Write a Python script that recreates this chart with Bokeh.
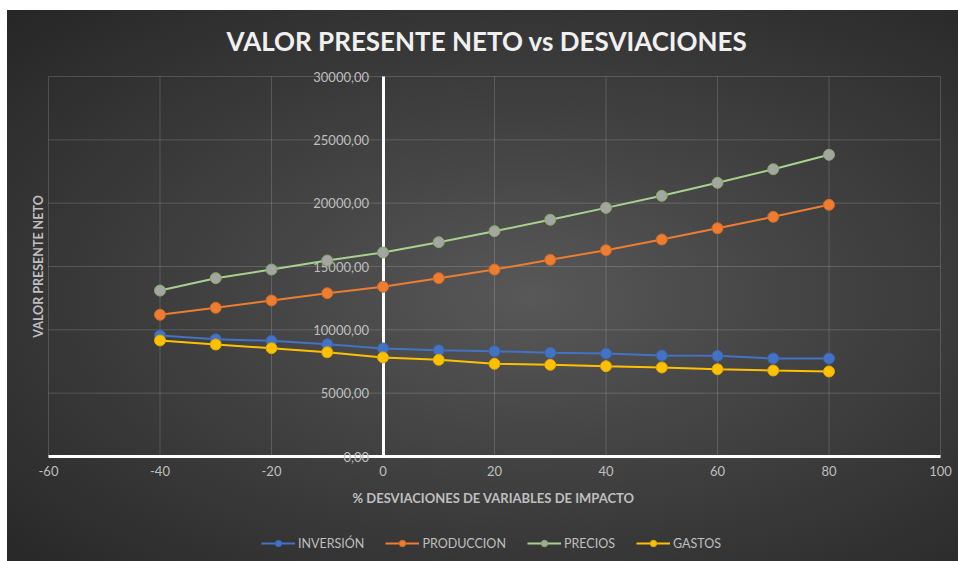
from math import pi
from bokeh.plotting import figure
from bokeh.models import (Range1d, FixedTicker, Legend, LegendItem, Label)
from bokeh.embed import file_html
from bokeh.resources import INLINE

# ---- data ----
desviaciones = [-40, -30, -20, -10, 0, 10, 20, 30, 40, 50, 60, 70, 80]
inversion = [9550, 9260, 9130, 8870, 8530, 8390, 8310, 8190, 8130, 7970, 7950, 7740, 7740]
produccion = [11190, 11740, 12320, 12890, 13400, 14080, 14760, 15530, 16290, 17130, 18020, 18920, 19870]
precios = [13100, 14080, 14760, 15470, 16110, 16920, 17790, 18690, 19630, 20580, 21610, 22680, 23820]
gastos = [9160, 8840, 8550, 8230, 7820, 7630, 7320, 7240, 7130, 7030, 6890, 6790, 6710]

x_ticks = [-60, -40, -20, 0, 20, 40, 60, 80, 100]
x_tick_labels = ["-60", "-40", "-20", "0", "20", "40", "60", "80", "100"]
y_ticks = [0, 5000, 10000, 15000, 20000, 25000, 30000]
y_tick_labels = ["0,00", "5000,00", "10000,00", "15000,00", "20000,00", "25000,00", "30000,00"]

series_names = ["INVERSIÓN", "PRODUCCION", "PRECIOS", "GASTOS"]
series_values = [inversion, produccion, precios, gastos]
line_colors = ["#4472C4", "#ED7D31", "#A9D18E", "#FFC000"]
marker_fills = ["#4472C4", "#ED7D31", "#A5A5A5", "#FFC000"]
marker_lines = ["#3b64ad", "#d06a26", "#7fae5e", "#e0a800"]

TITLE = "VALOR PRESENTE NETO vs DESVIACIONES"
X_TITLE = "% DESVIACIONES DE VARIABLES DE IMPACTO"
Y_TITLE = "VALOR PRESENTE NETO"

# ---- layout (pixels) ----
W, H = 958, 561
PX_LEFT, PX_RIGHT = 48, 940      # pixel columns of first / last x tick
PY_TOP, PY_BOTTOM = 76, 456      # pixel rows of last / first y tick

FONT = "Lato"
LABEL_COLOR = "#bfbfbf"

sx = (PX_RIGHT - PX_LEFT) / (x_ticks[-1] - x_ticks[0])
sy = (PY_BOTTOM - PY_TOP) / (y_ticks[-1] - y_ticks[0])
x_start = x_ticks[0] - PX_LEFT / sx
x_end = x_ticks[-1] + (W - PX_RIGHT) / sx
y_end = y_ticks[-1] + PY_TOP / sy
y_start = y_ticks[0] - (H - PY_BOTTOM) / sy


def X(px):
    return x_start + px / sx


def Y(py):
    return y_end - py / sy


p = figure(width=W, height=H, output_backend="svg", toolbar_location=None,
           x_range=Range1d(x_start, x_end), y_range=Range1d(y_start, y_end),
           min_border=0)
p.title.visible = False
p.styles = {"background": "radial-gradient(ellipse farthest-corner at 55% 52%, #585858 0%, #454545 35%, #262626 100%) 7px 10px / 951px 551px no-repeat, #ffffff"}
p.background_fill_alpha = 0
p.border_fill_alpha = 0
p.outline_line_color = None
p.grid.visible = False

# grid lines (limited to the value area)
p.segment(x0=x_ticks, y0=[y_ticks[0]] * len(x_ticks), x1=x_ticks, y1=[y_ticks[-1]] * len(x_ticks),
          line_color="#ffffff", line_alpha=0.16, line_width=1, level="image")
p.segment(x0=[x_ticks[0]] * len(y_ticks), y0=y_ticks, x1=[x_ticks[-1]] * len(y_ticks), y1=y_ticks,
          line_color="#ffffff", line_alpha=0.16, line_width=1, level="image")

# x axis crossing at y = 0
xa = p.xaxis[0]
xa.fixed_location = 0
xa.bounds = (x_ticks[0], x_ticks[-1])
xa.ticker = FixedTicker(ticks=x_ticks)
xa.major_label_overrides = {t: l for t, l in zip(x_ticks, x_tick_labels)}
xa.axis_line_color = "white"
xa.axis_line_width = 3
xa.major_tick_line_color = None
xa.minor_tick_line_color = None
xa.major_label_text_font = FONT
xa.major_label_text_font_size = "13px"
xa.major_label_text_color = LABEL_COLOR
xa.major_label_standoff = 3
xa.level = "underlay"

# y axis crossing at x = 0
ya = p.yaxis[0]
ya.fixed_location = 0
ya.bounds = (y_ticks[0], y_ticks[-1])
ya.ticker = FixedTicker(ticks=y_ticks)
ya.major_label_overrides = {t: l for t, l in zip(y_ticks, y_tick_labels)}
ya.axis_line_color = "white"
ya.axis_line_width = 3
ya.major_tick_line_color = None
ya.minor_tick_line_color = None
ya.major_label_text_font = FONT
ya.major_label_text_font_size = "13px"
ya.major_label_text_color = LABEL_COLOR
ya.major_label_standoff = 8
ya.level = "underlay"

# titles
p.add_layout(Label(x=X(486.5), y=Y(40), text=TITLE, text_align="center", text_baseline="middle",
                   text_font=FONT, text_font_style="bold", text_font_size="26px", text_color="#f0f0f0"))
p.add_layout(Label(x=X(493), y=Y(497), text=X_TITLE, text_align="center", text_baseline="middle",
                   text_font=FONT, text_font_style="bold", text_font_size="13px", text_color=LABEL_COLOR))
p.add_layout(Label(x=X(38), y=Y(266), text=Y_TITLE, text_align="center", text_baseline="middle", angle=pi / 2,
                   text_font=FONT, text_font_style="bold", text_font_size="12.5px", text_color=LABEL_COLOR))

items = []
for name, vals, lc, mf, ml in zip(series_names, series_values, line_colors, marker_fills, marker_lines):
    r1 = p.line(desviaciones, vals, line_color=lc, line_width=2)
    r2 = p.scatter(desviaciones, vals, size=11, fill_color=mf, line_color=ml, line_width=1)
    items.append(LegendItem(label=name, renderers=[r1, r2]))

legend = Legend(items=items, orientation="horizontal", location=(261, 10))
legend.background_fill_alpha = 0
legend.border_line_color = None
legend.label_text_font = FONT
legend.label_text_font_size = "12.5px"
legend.label_text_color = LABEL_COLOR
legend.glyph_width = 34
legend.glyph_height = 16
legend.label_height = 16
legend.label_standoff = 3
legend.spacing = 21
legend.margin = 0
legend.padding = 0
p.add_layout(legend, "center")

open("out.html", "w").write(file_html(p, INLINE))
